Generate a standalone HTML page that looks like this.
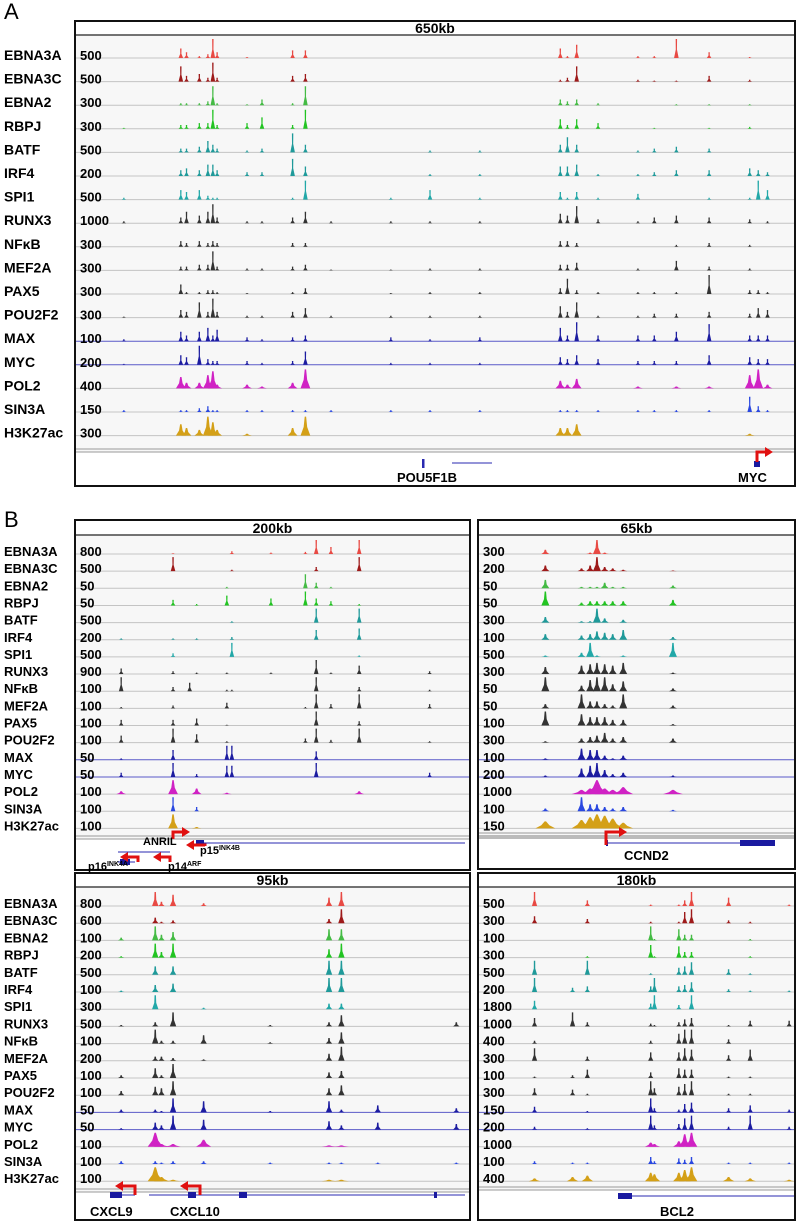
<!DOCTYPE html>
<html><head><meta charset="utf-8">
<style>
html,body{margin:0;padding:0;background:#fff;}
svg{display:block;font-family:"Liberation Sans",Arial,sans-serif;}
.lbl{font-weight:bold;fill:#000;}
</style></head>
<body>
<svg id="fig" width="807" height="1222" viewBox="0 0 807 1222" xmlns="http://www.w3.org/2000/svg">
<text x="4" y="19" font-size="22">A</text>
<text x="4" y="527" font-size="22">B</text>
<g id="layer"></g>
</svg>
<script>
const trackNames = ["EBNA3A","EBNA3C","EBNA2","RBPJ","BATF","IRF4","SPI1","RUNX3","NFκB","MEF2A","PAX5","POU2F2","MAX","MYC","POL2","SIN3A","H3K27ac"];
const trackColors = ["#e84a44","#9e1a1a","#44bb44","#22c422","#1f9a9a","#1f9a9a","#22a8a8","#333","#333","#333","#333","#333","#1c1ca0","#1c1ca0","#d022c4","#2a48e0","#d4a017"];

const scalesA = [500,500,300,300,500,200,500,1000,300,300,300,300,100,200,400,150,300];
const scalesB1 = [800,500,50,50,500,200,500,900,100,100,100,100,50,50,100,100,100];
const scalesB2 = [300,200,50,50,300,100,500,300,50,50,100,300,100,200,1000,100,150];
const scalesB3 = [800,600,100,200,500,100,300,500,100,200,100,100,50,50,100,100,100];
const scalesB4 = [500,300,100,300,500,200,1800,1000,400,300,100,300,150,200,1000,100,400];

// site positions (% of window)
const sitesA = [6.3,14.3,15.1,16.9,18.1,18.8,19.4,23.6,25.7,30,31.8,35.4,43.8,49.3,56.3,67.6,68.6,69.9,72.9,78.5,80.8,83.9,88.5,94.2,95.4,96.7];
const valuesA = [
[0,.5,.3,.1,.2,1,.3,.05,0,.4,.4,0,0,0,0,.5,.1,.7,0,.1,.1,1,.3,.05,0,0],
[0,.8,.3,.4,.2,1,.2,0,0,.3,.4,0,0,0,0,.1,.2,.8,0,.1,.05,.05,.3,.1,0,0],
[0,.1,.1,.1,.2,1,.1,.05,.3,.1,1,0,0,0,0,.3,.2,.3,.1,0,0,.05,.05,.05,0,0],
[.05,.2,.2,.3,.3,1,.2,.3,.6,.2,1,0,0,0,0,.5,.2,.5,.3,0,.05,0,.05,.1,0,0],
[0,.2,.2,.3,.6,.4,.2,.1,.2,1,.4,0,0,.1,.1,.4,.8,.4,0,.1,.2,.3,.2,0,0,0],
[0,.3,.4,.3,.6,.6,.3,.2,.2,.9,.5,0,0,.1,.1,.5,.5,.6,.1,.1,.2,.3,.3,.4,.3,.2],
[.1,.5,.4,.5,.2,.1,.1,0,0,.1,1,0,.1,.5,.1,.4,.1,.4,.1,.3,0,0,.1,.1,1,.5],
[.1,.3,.6,.4,.6,1,.3,.1,.1,.3,.6,.1,.1,.1,.1,.5,.4,.9,.2,.1,.3,.4,.3,.2,0,.1],
[0,.3,.2,.3,.2,.3,.2,0,0,.2,.2,0,0,0,0,.3,.3,.2,0,0,0,.1,.2,.1,0,0],
[0,.2,.2,.3,.3,1,.2,.1,.1,.2,.3,.05,.05,.1,.1,.3,.3,.4,0,.1,0,.5,.2,.1,0,0],
[0,.5,.1,.1,.2,.2,.1,.05,0,.1,.3,0,.05,.1,.1,.3,.8,.2,.1,.1,.1,.1,1,.2,.2,.1],
[.05,.4,.3,.8,.3,1,.3,.1,.1,.3,.5,.1,.1,.1,.1,.6,.3,.8,.1,.1,.2,.2,.3,.2,.5,.4],
[.1,.5,.3,.5,.7,.3,.6,.2,.1,.2,.3,0,.2,.1,.2,.7,.3,1,.3,.3,.3,.5,.9,.3,.3,.3],
[.05,.5,.4,1,.3,.2,.2,.2,.1,.2,.7,0,.1,.1,.1,.4,.3,.5,.3,.2,.2,.2,.5,.4,.3,.3],
[0,.6,.3,.3,.7,.9,.2,.2,.1,.3,1,0,0,0,0,.4,.2,.5,0,.1,0,.1,.1,.7,1,.2],
[.1,.1,.1,.2,.3,.1,.1,.1,.1,.1,.1,.1,.1,.1,.1,.1,.1,.1,.1,.1,.1,.1,.1,.8,.3,.1],
[0,.6,.4,.3,1,.7,.3,.1,0,.4,1,0,0,0,0,.4,.4,.6,0,0,0,0,0,.1,0,0]];

const sitesB1 = [10.9,24.3,28.6,30.4,38.2,39.5,49.6,58.5,61.3,65.1,72.4,90.6];
const valuesB1 = [
[0,.05,0,0,0,.2,.1,.15,1,.5,1,0],
[0,1,0,0,0,.1,0,0,.3,0,1,0],
[0,0,0,0,.1,0,0,1,.4,.1,0,0],
[0,.4,0,.1,.7,0,.5,1,.5,.3,.1,0],
[0,0,0,0,0,.1,0,0,1,0,1,0],
[.1,.1,0,.1,0,.2,0,0,.7,0,.8,0],
[0,.25,0,0,0,1,0,0,0,0,.1,0],
[.4,.2,0,.1,.1,0,.1,0,1,.1,.6,.2],
[1,.3,.6,0,.1,.1,0,0,1,0,.3,.1],
[.1,.2,0,0,.4,0,0,.1,1,.3,1,.3],
[.4,.4,0,.5,.05,0,0,0,1,0,.3,0],
[.5,1,0,.6,.1,0,0,.3,1,.2,1,.1],
[.1,.7,0,0,1,1,0,0,.6,0,0,0],
[.3,1,0,.2,.8,.8,0,0,1,0,0,.3],
[.2,1,0,.4,.1,0,0,0,0,0,.2,0],
[0,1,0,.3,0,0,0,0,0,0,0,0],
[0,1,0,.1,0,0,0,0,0,0,0,0]];

const sitesB2 = [20.5,32.2,35,37.2,39.7,42.3,45.7,61.8];
const valuesB2 = [
[.3,0,.1,1,.1,0,0,0],
[.4,.2,.4,1,.3,.2,.1,.05],
[.6,.1,.1,.1,.4,.1,.1,.2],
[1,.2,.3,.3,.3,.3,.3,.4],
[.4,.1,.1,1,.3,0,.2,0],
[.4,.3,.4,.6,.5,.4,.7,.2],
[.1,.3,1,.1,0,0,.1,1],
[.5,.6,.7,.8,.7,.6,.8,.1],
[1,.4,.8,1,1,.5,.7,.2],
[.3,1,.5,.5,.3,.2,1,.2],
[1,.8,.6,.6,.6,.4,.4,.1],
[.1,.3,.4,.5,.7,.3,.4,.3],
[.1,.8,.7,.7,.3,.1,.3,0],
[.1,.6,.8,1,.5,.2,.3,.1],
[0,.3,.4,1,.4,.3,.5,.3],
[.2,1,.5,.5,.3,.2,.3,.1],
[.5,.6,.8,1,.9,.7,.4,0]];

const sitesB3 = [10.9,19.7,21.3,24.3,32.2,49.4,64.6,67.8,77.2,97.5];
const valuesB3 = [
[0,1,.3,.8,.2,0,.6,1,0,0],
[0,.4,.1,.2,0,0,.3,1,0,0],
[.2,1,.4,.6,0,0,.8,.8,0,0],
[.1,1,.4,1,0,0,.6,1,0,0],
[0,.6,0,.6,0,0,1,1,0,0],
[.1,.5,0,.6,0,0,1,1,0,0],
[0,1,0,0,.1,0,.4,.4,0,0],
[.1,.3,0,1,0,.1,.3,.8,0,.3],
[0,1,.2,.2,.6,.1,.4,.8,0,0],
[0,.3,.3,.2,.1,0,.5,1,0,0],
[.2,.7,.2,1,0,0,.4,.5,0,0],
[.3,.6,.5,1,0,0,.5,.7,0,0],
[.2,.2,.1,1,.8,.1,.8,.2,.5,.3],
[.1,.5,.3,1,.7,0,.6,.3,.5,.4],
[0,1,.2,.2,.5,0,.1,.1,0,0],
[.2,.2,.1,.2,.2,.1,.1,.1,.1,.1],
[0,1,.3,.1,0,0,.1,.1,0,0]];

const sitesB4 = [17,29.3,34.1,54.6,55.8,63.7,65.6,67.8,79.8,86.8,99.4];
const valuesB4 = [
[1,0,.4,.1,0,.1,.4,1,.6,0,.1],
[.5,0,.3,.1,0,.1,.8,1,.2,.1,0],
[0,0,0,1,.1,.8,.4,.4,0,.1,0],
[0,0,.1,.9,.1,.8,.4,.4,0,.1,0],
[1,0,1,.1,0,.5,.6,.9,.4,.1,0],
[1,.3,.4,.4,1,.4,.5,.7,.2,.1,.1],
[.6,0,0,.4,1,.3,0,1,0,0,0],
[.6,1,.3,.2,.1,.3,.5,.6,.1,.4,.4],
[.2,0,0,.2,0,.7,1,1,.3,0,0],
[.9,0,.3,.6,0,.6,.9,.8,.4,.8,0],
[.1,.2,.6,.4,0,.7,.6,.6,.1,.1,0],
[.5,.4,.1,1,.5,.6,.8,1,.1,.1,0],
[.4,0,.1,1,.3,.2,.6,.7,.3,.5,.2],
[.2,0,.1,1,.3,.4,.8,1,.2,1,.2],
[0,0,0,.3,.2,.4,.9,1,0,0,0],
[.2,.1,.1,.5,.2,.4,.3,.5,.1,.1,.1],
[.2,.3,.4,.6,.5,.6,.8,1,.3,.2,.1]];

const NS = "http://www.w3.org/2000/svg";
const layer = document.getElementById("layer");
function mk(tag, attrs, parent){const e=document.createElementNS(NS,tag);for(const k in attrs)e.setAttribute(k,attrs[k]);(parent||layer).appendChild(e);return e;}

const panels = [
 {id:"a", title:"650kb", x0:75,x1:795,y0:21,hb:35,y1:486,base0:58,step:23.6,hmax:19,lblSize:14,numSize:13,showNames:true,w:1.3,sites:sitesA,values:valuesA,scales:scalesA},
 {id:"b1",title:"200kb",x0:75,x1:470,y0:520,hb:535,y1:870,base0:554,step:17.15,hmax:14,lblSize:13,numSize:13,showNames:true,w:1.3,sites:sitesB1,values:valuesB1,scales:scalesB1},
 {id:"b2",title:"65kb",x0:478,x1:795,y0:520,hb:535,y1:869,base0:554,step:17.15,hmax:14,lblSize:13,numSize:13,showNames:false,w:3,sites:sitesB2,values:valuesB2,scales:scalesB2},
 {id:"b3",title:"95kb",x0:75,x1:470,y0:873,hb:887,y1:1220,base0:906,step:17.2,hmax:14,lblSize:13,numSize:13,showNames:true,w:2.2,sites:sitesB3,values:valuesB3,scales:scalesB3},
 {id:"b4",title:"180kb",x0:478,x1:795,y0:873,hb:887,y1:1220,base0:906,step:17.2,hmax:14,lblSize:13,numSize:13,showNames:false,w:1.6,sites:sitesB4,values:valuesB4,scales:scalesB4}
];

panels.forEach(p=>{
  const g = mk("g",{});
  
  
  const bg = mk("rect",{x:p.x0,y:p.y0,width:p.x1-p.x0,height:p.y1-p.y0,fill:"#f7f7f7",stroke:"none"},g);
  
  
  mk("rect",{x:p.x0,y:p.y0,width:p.x1-p.x0,height:p.hb-p.y0,fill:"#fff"},g);
  const t = mk("text",{x:(p.x0+p.x1)/2,y:p.hb-2,"text-anchor":"middle","font-size":14,class:"lbl"},g);
  t.textContent = p.title;
  
  
  mk("line",{x1:p.x0,x2:p.x1,y1:p.hb,y2:p.hb,stroke:"#222","stroke-width":1.2},g);
  const xs = v => p.x0 + 4 + v/100*(p.x1-p.x0-8);
  trackNames.forEach((nm,i)=>{
    const b = p.base0 + i*p.step;
    const col = trackColors[i];
    const tg = mk("g",{},g);
    
    
    const bl = mk("line",{x1:p.x0+1,x2:p.x1-1,y1:b,y2:b,stroke:(i==12||i==13)?"#5a5ac8":"#c4c4c4","stroke-width":1},tg);
    
    
    const broad = (i==14||i==16);
    const w = broad ? p.w*3 : p.w;
    p.sites.forEach((s,k)=>{
      const v = p.values[i][k];
      if(v<=0) return;
      const x = xs(s), h = v*p.hmax;
      const d = `M${x-w-1},${b} L${x-w*0.45},${b-h*0.45} L${x-0.7},${b-h} L${x+0.7},${b-h} L${x+w*0.45},${b-h*0.45} L${x+w+1},${b} Z`;
      const pk = mk("path",{d:d,fill:col},tg);
      
      
    });
    if(p.showNames){
      const tl = mk("text",{x:4,y:b+2,"font-size":p.lblSize,class:"lbl"});
      tl.textContent = nm;
      
      
    }
    const sn = mk("text",{x:p.x0+5,y:b+2,"font-size":p.numSize,class:"lbl"},tg);
    sn.textContent = p.scales[i];
    
    
  });
  const br = mk("rect",{x:p.x0,y:p.y0,width:p.x1-p.x0,height:p.y1-p.y0,fill:"none",stroke:"#111","stroke-width":2},g);
  
  
  p.g = g;
});

// gene annotation areas
function geneArea(p, lineY, bottomFill){
  mk("rect",{x:p.x0+1,y:lineY+3,width:p.x1-p.x0-2,height:p.y1-lineY-4,fill:"#fff"},p.g);
  mk("line",{x1:p.x0+1,x2:p.x1-1,y1:lineY,y2:lineY,stroke:"#999","stroke-width":1},p.g);
  mk("line",{x1:p.x0+1,x2:p.x1-1,y1:lineY+3,y2:lineY+3,stroke:"#999","stroke-width":1},p.g);
}
function gtext(txt,x,y,sz,name){const t=mk("text",{x:x,y:y,"font-size":sz,class:"lbl"});t.textContent=txt;return t;}
function arrowR(x,y0,y1,x2){mk("path",{d:`M${x},${y0} L${x},${y1} L${x2-5},${y1}`,stroke:"#e01010","stroke-width":3,fill:"none"});mk("path",{d:`M${x2-6},${y1-5} L${x2+2},${y1} L${x2-6},${y1+5}Z`,fill:"#e01010"});}
function arrowL(x,y0,y1,x2){mk("path",{d:`M${x},${y0} L${x},${y1} L${x2+5},${y1}`,stroke:"#e01010","stroke-width":3,fill:"none"});mk("path",{d:`M${x2+6},${y1-5} L${x2-2},${y1} L${x2+6},${y1+5}Z`,fill:"#e01010"});}
function gline(x1,x2,y,thick){mk("line",{x1:x1,x2:x2,y1:y,y2:y,stroke:"#2a2ab0","stroke-width":1});(thick||[]).forEach(t=>mk("rect",{x:t[0],y:y-3,width:t[1],height:6,fill:"#1a1aa0"}));}

// Panel A
geneArea(panels[0],449);
mk("rect",{x:422,y:459,width:2.5,height:9,fill:"#2a2ab0"});
gline(452,492,463,[]);
gline(754,760,464,[[754,6]]);
arrowR(757,462,452,771);
gtext("POU5F1B",397,482,13,"gene-label-pou5f1b");
gtext("MYC",738,482,13,"gene-label-myc");

// Panel B1 (CDKN2A/B locus)
geneArea(panels[1],836);
gline(198,465,843,[[196,8]]);
gline(118,170,852,[]);
gline(118,135,862,[[120,10]]);
arrowR(173,839,832,188);
arrowL(205,846,845,188);
arrowL(138,862,857,122);
arrowL(170,862,857,155);
gtext("ANRIL",143,845,11,"gene-label-anril");
const p15=gtext("p15",200,854,11,"gene-label-p15");
mk("tspan",{"font-size":7,dy:-4},p15).textContent="INK4B";
const p16=gtext("p16",88,870,11,"gene-label-p16");
mk("tspan",{"font-size":7,dy:-4},p16).textContent="INK4A";
const p14=gtext("p14",168,870,11,"gene-label-p14");
mk("tspan",{"font-size":7,dy:-4},p14).textContent="ARF";

// Panel B2 (CCND2)
geneArea(panels[2],833);
mk("rect",{x:479,y:835,width:315,height:4,fill:"#bbb"});
gline(606,752,843,[[606,2],[740,35]]);
arrowR(606,845,832,625);
gtext("CCND2",624,860,13,"gene-label-ccnd2");

// Panel B3 (CXCL9/10)
geneArea(panels[3],1189);
gline(110,135,1195,[[110,12]]);
gline(149,465,1195,[[188,8],[239,8],[434,2],[434,3]]);
arrowL(135,1195,1186,117);
arrowL(200,1195,1186,182);
gtext("CXCL9",90,1216,13,"gene-label-cxcl9");
gtext("CXCL10",170,1216,13,"gene-label-cxcl10");

// Panel B4 (BCL2)
geneArea(panels[4],1187);
gline(618,794,1196,[[618,14]]);
gtext("BCL2",660,1216,13,"gene-label-bcl2");
</script>
</body></html>
